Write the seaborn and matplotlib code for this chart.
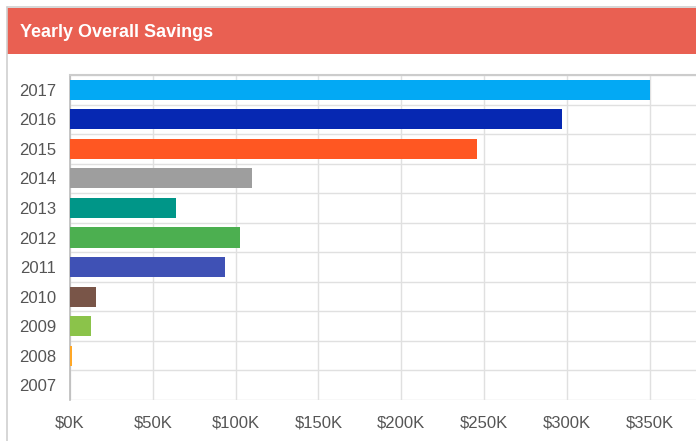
import matplotlib
matplotlib.use("Agg")
import matplotlib.pyplot as plt
from matplotlib.patches import Rectangle
from matplotlib.lines import Line2D
from matplotlib.ticker import FuncFormatter
import seaborn as sns
import pandas as pd
import numpy as np

years = ["2017", "2016", "2015", "2014", "2013", "2012", "2011", "2010", "2009", "2008", "2007"]
savings = [350000, 297000, 246000, 110000, 64000, 102500, 93500, 16000, 12500, 1500, 0]
colors = ["#03A9F4", "#0628B2", "#FF5722", "#9E9E9E", "#009688", "#4CAF50",
          "#3F51B5", "#795548", "#8BC34A", "#FFA726", "#CCCCCC"]
x_ticks = [0, 50000, 100000, 150000, 200000, 250000, 300000, 350000]

df = pd.DataFrame({"year": years, "savings": savings})

sns.set_theme(style="white")
plt.rcParams["font.family"] = ["Liberation Sans", "DejaVu Sans"]

W, H = 696, 441
fig = plt.figure(figsize=(W / 100, H / 100), dpi=100)
ax = fig.add_axes([70 / W, 1 - 400 / H, 1 - 70 / W, 325 / H])

sns.barplot(data=df, y="year", x="savings", hue="year", palette=colors,
            order=years, hue_order=years, width=0.68, legend=False,
            saturation=1, linewidth=0, zorder=3, ax=ax)

ax.set_xlim(0, 378000)
ax.set_ylim(len(years) - 0.5, -0.5)
ax.set_xticks(x_ticks)
ax.xaxis.set_major_formatter(FuncFormatter(lambda v, p: f"${int(v/1000)}K"))
ax.set_yticks(range(len(years)))
ax.set_yticks(np.arange(-0.5, len(years), 1.0), minor=True)
ax.set_xlabel("")
ax.set_ylabel("")

grid_c = "#e0e0e0"
ax.grid(True, axis="x", which="major", color=grid_c, linewidth=1)
ax.grid(True, axis="y", which="minor", color=grid_c, linewidth=1)
ax.grid(False, axis="y", which="major")
ax.set_axisbelow(True)

ax.tick_params(axis="y", which="major", length=0, pad=10, labelsize=12, labelcolor="#555555")
ax.tick_params(axis="y", which="minor", length=13, color=grid_c, width=1)
ax.tick_params(axis="x", which="major", length=6, color=grid_c, width=1,
               labelsize=12, labelcolor="#555555", pad=5)

for s in ["right", "bottom"]:
    ax.spines[s].set_visible(False)
ax.spines["top"].set_color("#cccccc")
ax.spines["top"].set_linewidth(1.5)
ax.spines["left"].set_color("#bbbbbb")
ax.spines["left"].set_linewidth(1.2)
ax.spines["left"].set_zorder(2)

# card header
fig.patches.append(Rectangle((7 / W, 1 - 54 / H), 1 - 7 / W, 46 / H,
                             transform=fig.transFigure, facecolor="#E96052",
                             edgecolor="none", zorder=0))
fig.lines.append(Line2D([7 / W, 7 / W], [0, 1 - 7 / H], transform=fig.transFigure,
                        color="#d0d0d0", linewidth=1.2))
fig.lines.append(Line2D([7 / W, 1], [1 - 7 / H, 1 - 7 / H], transform=fig.transFigure,
                        color="#d0d0d0", linewidth=1.2))
fig.text(20 / W, 1 - 32.5 / H, "Yearly Overall Savings", color="white",
         fontsize=13, fontweight="bold", va="center", ha="left")

fig.savefig("out.png", dpi=100)
